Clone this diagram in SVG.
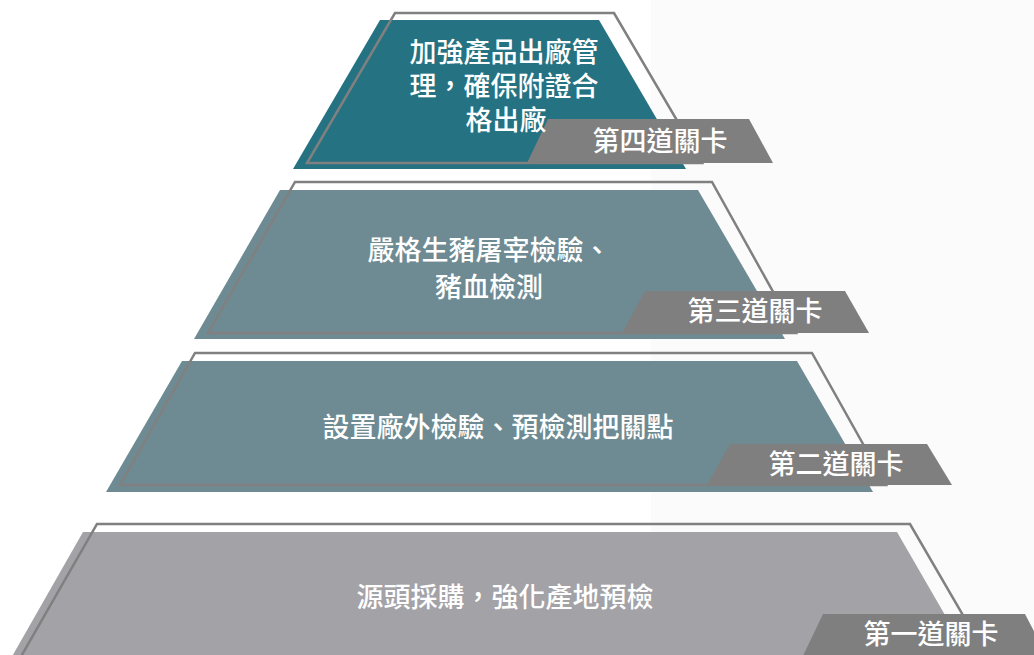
<svg xmlns="http://www.w3.org/2000/svg" width="1034" height="655" viewBox="0 0 1034 655">
  <style>
    .outline { fill: none; stroke: #808080; stroke-width: 2.5; stroke-linejoin: miter; }
    .label { fill: #7f7f7f; }
    .t { font-family: "Noto Sans CJK TC", "Noto Sans CJK SC", "Liberation Sans", sans-serif; font-size: 27px; font-weight: 500; fill: #ffffff; text-anchor: middle; }
    .teal { fill: #257282; }
    .slate { fill: #6e8b93; }
    .grey { fill: #a3a2a7; }
  </style>
  <rect x="0" y="0" width="1034" height="655" fill="#ffffff"/>
  <rect x="651" y="0" width="383" height="655" fill="#fbfbfb"/>

  <g id="tier4">
    <polygon class="teal" points="380,20 599,20 686,169 293,169"/>
    <polygon class="outline" points="395,13 614,13 702,163 307,163"/>
    <polygon class="label" points="548,119 749,119 773,163 527,163"/>
    <text class="t" x="504" y="62">加強產品出廠管</text>
    <text class="t" x="504" y="96">理，確保附證合</text>
    <text class="t" x="506" y="130">格出廠</text>
    <text class="t" x="660" y="151">第四道關卡</text>
  </g>

  <g id="tier3">
    <polygon class="slate" points="280,190 698,190 785,339 194,339"/>
    <polygon class="outline" points="295,182 712,182 796,333 208,333"/>
    <polygon class="label" points="645,291 845,291 869,333 622,333"/>
    <text class="t" x="489" y="260">嚴格生豬屠宰檢驗、</text>
    <text class="t" x="489" y="297">豬血檢測</text>
    <text class="t" x="755" y="321">第三道關卡</text>
  </g>

  <g id="tier2">
    <polygon class="slate" points="182,361 797,361 873,492 106,492"/>
    <polygon class="outline" points="195,353 812,353 886,485 120,485"/>
    <polygon class="label" points="730,444 927,444 952,485 707,485"/>
    <text class="t" x="498" y="437">設置廠外檢驗、預檢測把關點</text>
    <text class="t" x="836" y="474">第二道關卡</text>
  </g>

  <g id="tier1">
    <polygon class="grey" points="83,532 897,532 971,660 10,660"/>
    <polygon class="outline" points="97,524 910,524 989,660 19,660"/>
    <polygon class="label" points="823,614 1025,614 1049,660 801,660"/>
    <text class="t" x="505" y="607">源頭採購，強化產地預檢</text>
    <text class="t" x="931" y="644">第一道關卡</text>
  </g>

  <g id="connectors"/>
</svg>
